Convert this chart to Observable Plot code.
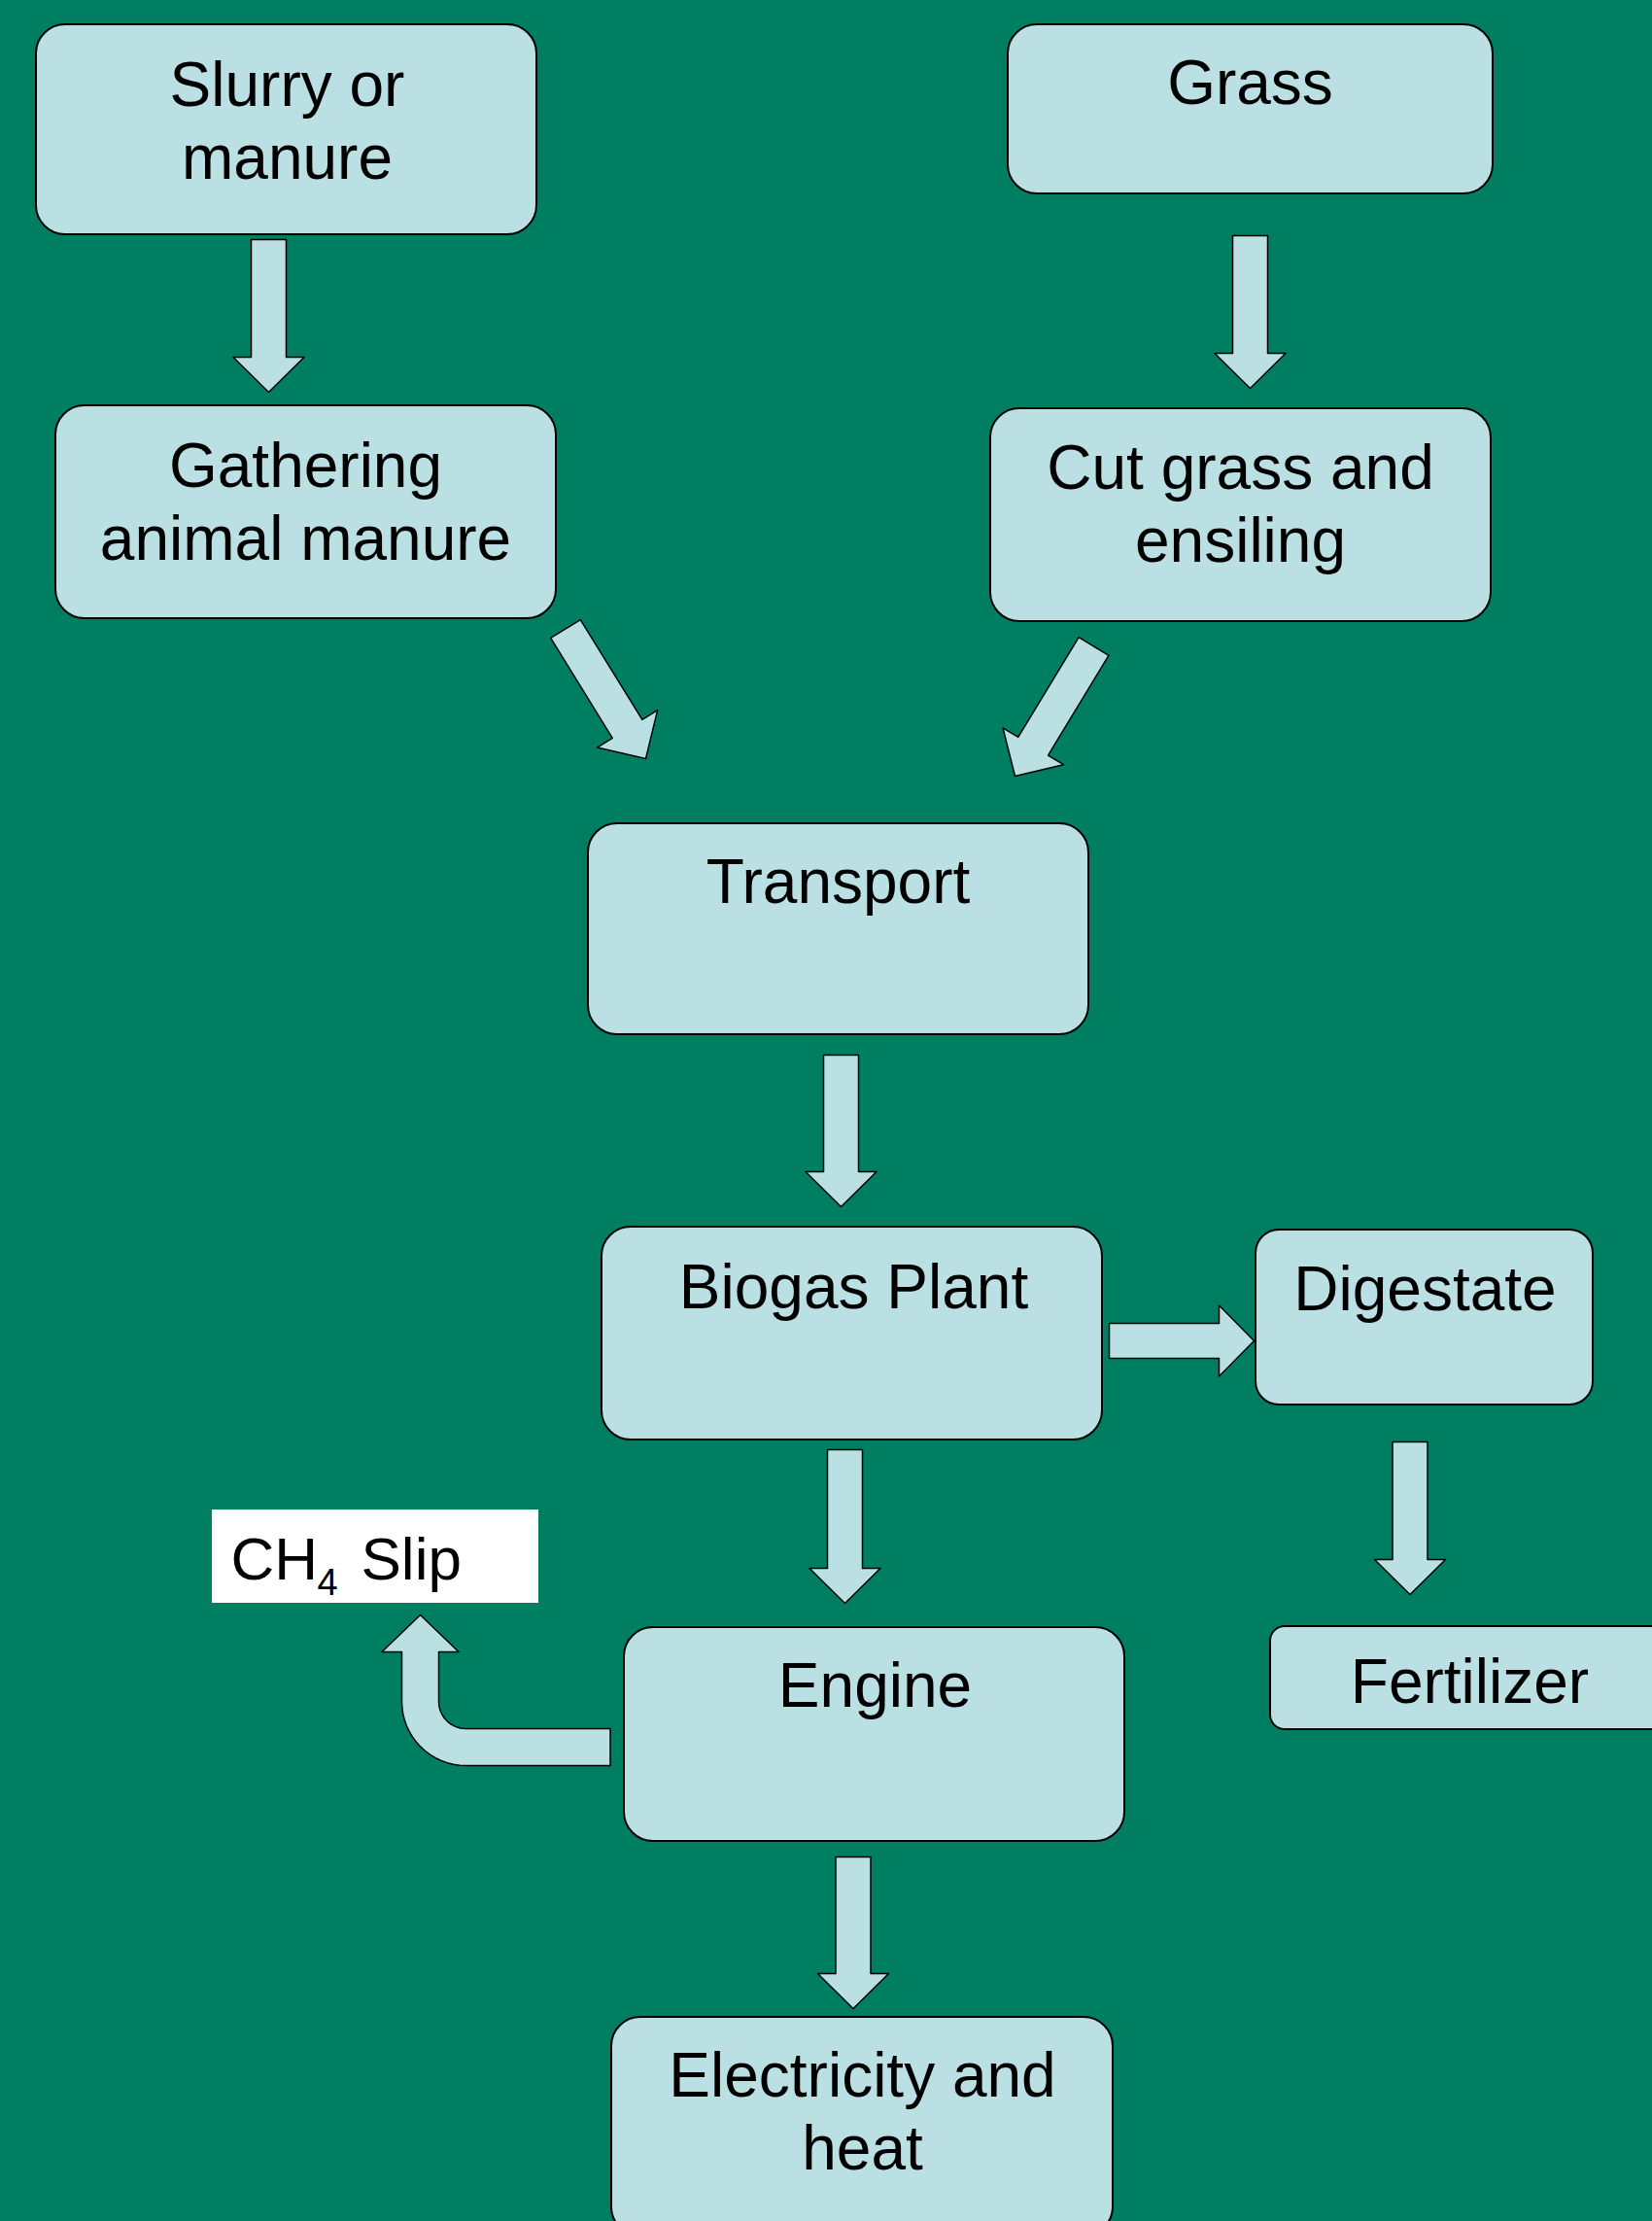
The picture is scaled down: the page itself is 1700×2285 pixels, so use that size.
<!DOCTYPE html>
<html>
<head>
<meta charset="utf-8">
<script src="https://cdn.jsdelivr.net/npm/d3@7"></script>
<script src="https://cdn.jsdelivr.net/npm/@observablehq/plot@0.6"></script>
<style>
  html, body { margin: 0; padding: 0; background: #007E62; }
  #chart svg { display: block; }
</style>
</head>
<body>
<div id="chart"></div>
<script>
// ---- Flowchart data ----
const nodeLabels = ["Slurry or\nmanure", "Grass", "Gathering\nanimal manure", "Cut grass and\nensiling",
  "Transport", "Biogas Plant", "Digestate", "Fertilizer", "Engine", "Electricity and\nheat"];
const nodeX1 = [37, 1037, 57, 1019, 605, 619, 1292, 1307, 642, 629];
const nodeX2 = [552, 1536, 572, 1534, 1120, 1134, 1639, 1720, 1157, 1145];
const nodeY1 = [25, 25, 417, 420, 847, 1262, 1265, 1673, 1674, 2075];
const nodeY2 = [241, 199, 636, 639, 1064, 1481, 1445, 1779, 1894, 2300];
const labelCx = [295, 1286, 314, 1276, 862, 878, 1466, 1512, 900, 887];
const labelBaseline = [108, 106, 500, 502, 928, 1345, 1347, 1751, 1755, 2156];

// straight block arrows: tail centre -> tip
const arrowFromX = [276, 1286, 581.5, 1125, 865, 869, 1141, 1450.5, 877.5];
const arrowFromY = [246, 242, 646.5, 664.5, 1085, 1491, 1379, 1483, 1910];
const arrowToX   = [276, 1286, 664, 1044, 865, 869, 1290, 1450.5, 877.5];
const arrowToY   = [403, 399, 780, 798, 1241, 1649, 1379, 1640, 2066];

// bent arrow Engine -> CH4 slip: tail (right end), corner centre, tip
const bentTail = [627.5, 1797];
const bentCorner = [479, 1750];
const bentTip = [432, 1661];

// CH4 Slip label box
const slipBox = {x1: 218, x2: 554, y1: 1553, y2: 1649};
const slipParts = ["CH", "4", "Slip"];

// ---- styles ----
const BG = "#007E62", BOX = "#BBE0E3", INK = "#000000";
const FONT = "Liberation Sans, Arial, Helvetica, sans-serif";
const FS = 64, LH = 76;
const radiusOf = {"Digestate": 24, "Fertilizer": 15};

// Plot places the first line's baseline at 0.71 * lineHeight em below y for lineAnchor "top"
const nodes = nodeLabels.map((label, i) => ({
  label, x1: nodeX1[i], x2: nodeX2[i], y1: nodeY1[i], y2: nodeY2[i],
  cx: labelCx[i], top: labelBaseline[i] - 0.71 * LH,
  r: radiusOf[label] ?? 30
}));

// polygon builder for straight block arrows
const SHAFT = 18, HEAD = 36.5, HEADLEN = 36;
const arrowPts = [];
arrowFromX.forEach((_, i) => {
  const x0 = arrowFromX[i], y0 = arrowFromY[i], x1 = arrowToX[i], y1 = arrowToY[i];
  const L = Math.hypot(x1 - x0, y1 - y0);
  const ux = (x1 - x0) / L, uy = (y1 - y0) / L;
  const px = -uy, py = ux;
  const bx = x1 - ux * HEADLEN, by = y1 - uy * HEADLEN;
  const poly = [
    [x0 + px * SHAFT, y0 + py * SHAFT],
    [bx + px * SHAFT, by + py * SHAFT],
    [bx + px * HEAD, by + py * HEAD],
    [x1, y1],
    [bx - px * HEAD, by - py * HEAD],
    [bx - px * SHAFT, by - py * SHAFT],
    [x0 - px * SHAFT, y0 - py * SHAFT]
  ];
  poly.push(poly[0]);
  poly.forEach(([x, y]) => arrowPts.push({id: "a" + i, x, y}));
});

// bent arrow polygon
(() => {
  const w = 19, hw = 39.5, hl = 38;
  const [tx, ty] = bentTail, [cx, cy] = bentCorner, [ax, ay] = bentTip;
  const xin = ax + w, xout = ax - w;
  const rIn = cx - xin, rOut = cx - xout;
  const pts = [];
  pts.push([tx, ty - w]);
  pts.push([cx, cy + rIn]);
  for (let k = 1; k <= 16; k++) { const a = Math.PI / 2 + (Math.PI / 2) * k / 16; pts.push([cx + rIn * Math.cos(a), cy + rIn * Math.sin(a)]); }
  pts.push([xin, ay + hl]);
  pts.push([ax + hw, ay + hl]);
  pts.push([ax, ay]);
  pts.push([ax - hw, ay + hl]);
  pts.push([xout, ay + hl]);
  pts.push([xout, cy]);
  for (let k = 1; k <= 16; k++) { const a = Math.PI - (Math.PI / 2) * k / 16; pts.push([cx + rOut * Math.cos(a), cy + rOut * Math.sin(a)]); }
  pts.push([tx, ty + w]);
  pts.push([tx, ty - w]);
  pts.forEach(([x, y]) => arrowPts.push({id: "bent", x, y}));
})();

const rectMark = (r) => Plot.rect(nodes.filter(d => d.r === r), {
  x1: "x1", x2: "x2", y1: "y1", y2: "y2", rx: r, ry: r,
  fill: BOX, stroke: INK, strokeWidth: 2
});

const chart = Plot.plot({
  width: 1700, height: 2285, margin: 0,
  style: {background: BG, fontFamily: FONT},
  x: {domain: [0, 1700], range: [0, 1700], axis: null},
  y: {domain: [0, 2285], range: [0, 2285], axis: null},
  marks: [
    ...[...new Set(nodes.map(d => d.r))].map(rectMark),
    Plot.line(arrowPts, {x: "x", y: "y", z: "id", fill: BOX, stroke: INK, strokeWidth: 1.5, curve: "linear"}),
    Plot.rect([slipBox], {x1: "x1", x2: "x2", y1: "y1", y2: "y2", fill: "#FFFFFF"}),
    Plot.text(nodes, {x: "cx", y: "top", text: "label", lineAnchor: "top", lineHeight: LH / FS,
      fontSize: FS, fontFamily: FONT, fill: INK, textAnchor: "middle"}),
    Plot.text([slipParts[0]], {x: 237, y: 1624 - 0.71 * 62, text: d => d, lineAnchor: "top", textAnchor: "start", fontSize: 62, fontFamily: FONT, fill: INK}),
    Plot.text([slipParts[1]], {x: 326, y: 1640 - 0.71 * 38, text: d => d, lineAnchor: "top", textAnchor: "start", fontSize: 38, fontFamily: FONT, fill: INK}),
    Plot.text([slipParts[2]], {x: 371, y: 1624 - 0.71 * 62, text: d => d, lineAnchor: "top", textAnchor: "start", fontSize: 62, fontFamily: FONT, fill: INK})
  ]
});
document.getElementById("chart").appendChild(chart);
</script>
</body>
</html>
